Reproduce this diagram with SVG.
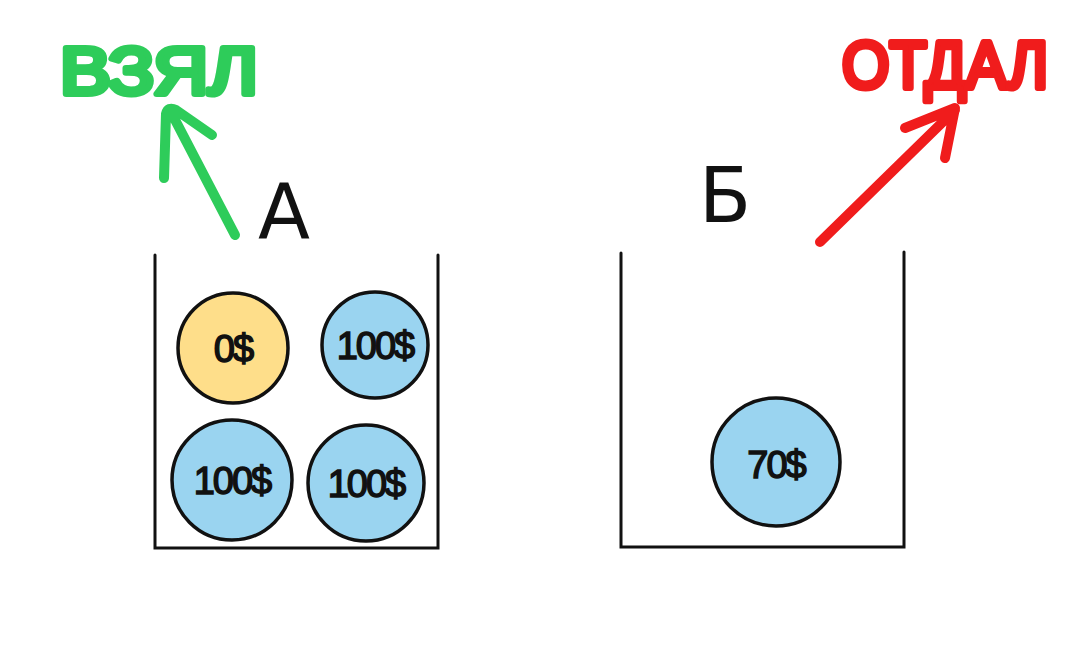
<svg xmlns="http://www.w3.org/2000/svg" width="1080" height="648" viewBox="0 0 1080 648">
<style>
.wall{fill:none;stroke:#111;stroke-width:3;stroke-linecap:round}
.coin{stroke:#111;stroke-width:3.5}
.y{fill:#fede8a}
.b{fill:#9ad4f0}
.cl{font-family:"Liberation Sans",sans-serif;font-size:38px;fill:#111;stroke:#111;stroke-width:1.5;text-anchor:middle;letter-spacing:-2px}
.big{font-family:"DejaVu Sans",sans-serif;font-size:76px;fill:#111;text-anchor:middle}
.g{font-family:"Liberation Sans",sans-serif;font-size:66px;fill:#2ecc5a;stroke:#2ecc5a;stroke-width:6;stroke-linejoin:round}
.r{font-family:"Liberation Sans",sans-serif;font-size:66px;fill:#f01c1c;stroke:#f01c1c;stroke-width:6;stroke-linejoin:round}
.ga{fill:none;stroke:#2ecc5a;stroke-width:10;stroke-linecap:round;stroke-linejoin:round}
.ra{fill:none;stroke:#f01c1c;stroke-width:10;stroke-linecap:round;stroke-linejoin:round}
</style>
<rect width="1080" height="648" fill="#fff"/>
<g id="containerA">
<polyline class="wall" points="155,255 155,548 438,548 438,255"/>
<text class="big" x="284" y="238">A</text>
</g>
<g id="containerB">
<polyline class="wall" points="621,253 621,547 904,547 904,252"/>
<text class="big" x="725" y="222">Б</text>
</g>
<g id="coin0">
<circle class="coin y" cx="233" cy="348" r="55"/>
<text class="cl" x="233" y="362">0$</text>
</g>
<g id="coin100a">
<circle class="coin b" cx="375" cy="345" r="53"/>
<text class="cl" x="375" y="359" font-size="34">100$</text>
</g>
<g id="coin100b">
<circle class="coin b" cx="232" cy="480" r="60"/>
<text class="cl" x="232" y="494">100$</text>
</g>
<g id="coin100c">
<circle class="coin b" cx="366" cy="483" r="58"/>
<text class="cl" x="366" y="497" font-size="36">100$</text>
</g>
<g id="coin70">
<circle class="coin b" cx="776" cy="462" r="64"/>
<text class="cl" x="776" y="478" font-size="46">70$</text>
</g>
<g id="labelTook">
<text class="g" x="60" y="94" textLength="198" lengthAdjust="spacingAndGlyphs">ВЗЯЛ</text>
</g>
<g id="labelGave">
<text class="r" x="842" y="88" textLength="206" lengthAdjust="spacingAndGlyphs">ОТДАЛ</text>
</g>
<g id="connectors">
<path class="ga" d="M235,235 L172,114 M164,178 L166,114 Q168,106 176,110 L212,135"/>
<path class="ra" d="M820,242 L955,110 M905,128 L955,108 L945,158"/>
</g>
</svg>
